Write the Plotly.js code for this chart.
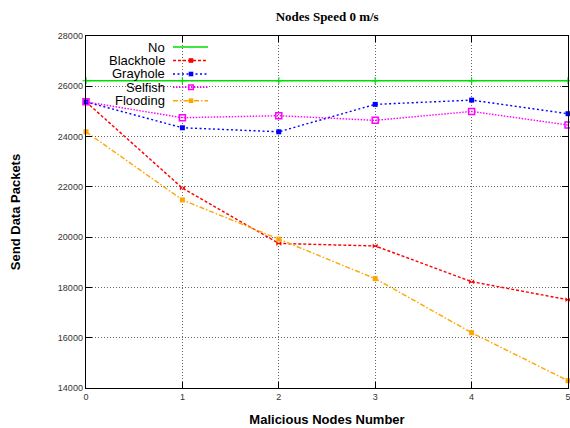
<!DOCTYPE html>
<html><head><meta charset="utf-8">
<script src="https://cdn.plot.ly/plotly-3.0.1.min.js"></script>
<style>html,body{margin:0;padding:0;background:#fff;}#chart{width:570px;height:428px;}</style>
</head><body><div id="chart"></div>
<script>
const xVals = [0, 1, 2, 3, 4, 5];
const seriesNames = ["No", "Blackhole", "Grayhole", "Selfish", "Flooding"];
const noVals = [26220, 26220, 26220, 26220, 26220, 26220];
const blackholeVals = [25380, 21950, 19750, 19650, 18230, 17510];
const grayholeVals = [25380, 24350, 24190, 25280, 25450, 24910];
const selfishVals = [25380, 24750, 24830, 24645, 25000, 24460];
const floodingVals = [24190, 21480, 19920, 18350, 16200, 14290];
const yTicks = [14000, 16000, 18000, 20000, 22000, 24000, 26000, 28000];

const styles = [
  {color: "#00dd00", dash: "solid", symbol: "cross-thin", size: 5, mline: 1.2},
  {color: "#ff0000", dash: "3px,2px", symbol: "bowtie", size: 5, mline: 0},
  {color: "#0000ff", dash: "2px,2.5px", symbol: "square", size: 5, mline: 0},
  {color: "#ff00ff", dash: "1.5px,1.5px", symbol: "square-open", size: 6, mline: 1.5},
  {color: "#ffa500", dash: "5px,2px,1.5px,2px", symbol: "square", size: 5, mline: 0}
];
const allVals = [noVals, blackholeVals, grayholeVals, selfishVals, floodingVals];

const traces = allVals.map((vals, i) => ({
  x: xVals, y: vals, name: seriesNames[i], type: "scatter", mode: "lines+markers",
  line: {color: styles[i].color, width: 1.4, dash: styles[i].dash},
  marker: {color: styles[i].color, symbol: styles[i].symbol, size: styles[i].size,
           line: {color: styles[i].color, width: styles[i].mline}},
  showlegend: false, cliponaxis: false
}));

// custom legend (text on left, sample on right, like gnuplot key)
const L = 86, R = 568, T = 36, B = 388;
const px = v => (v - L) / (R - L);
const py = v => (B - v) / (B - T);
const rowsY = [47, 60.5, 74, 87.3, 100.7];
const annotations = [];
const shapes = [];
seriesNames.forEach((n, i) => {
  annotations.push({xref: "paper", yref: "paper", x: px(166), y: py(rowsY[i]), text: n,
    showarrow: false, xanchor: "right", yanchor: "middle", borderpad: 0,
    font: {family: "Liberation Sans, Arial, sans-serif", size: 13, color: "#000"}});
  shapes.push({type: "line", xref: "paper", yref: "paper", x0: px(173), x1: px(208),
    y0: py(rowsY[i]), y1: py(rowsY[i]), line: {color: styles[i].color, width: 1.4, dash: styles[i].dash}});
  if (i > 0) {
    const s = 2.3;
    shapes.push({type: "rect", xref: "paper", yref: "paper", x0: px(191 - s), x1: px(191 + s),
      y0: py(rowsY[i] + s), y1: py(rowsY[i] - s),
      fillcolor: i === 3 ? "rgba(0,0,0,0)" : styles[i].color,
      line: {color: styles[i].color, width: i === 3 ? 1.5 : 0}});
  }
});

const gridStyle = {showgrid: true, gridcolor: "#666", griddash: "1px,2px", gridwidth: 1, zeroline: false};
const layout = {
  width: 570, height: 428,
  margin: {l: 86, r: 2, t: 36, b: 40},
  paper_bgcolor: "#fff", plot_bgcolor: "#fff",
  title: {text: "<b>Nodes Speed 0 m/s</b>", x: 0.574, xanchor: "center", y: 0.962, yanchor: "middle",
          font: {family: "Liberation Serif, Times New Roman, serif", size: 13, color: "#000"}},
  xaxis: Object.assign({range: [0, 5], tickvals: xVals, ticktext: xVals.map(String),
          showline: true, linecolor: "#000", linewidth: 1.3, mirror: "allticks",
          ticks: "inside", ticklen: 6, tickcolor: "#000", tickwidth: 1, ticklabeloverflow: "allow",
          tickfont: {family: "Liberation Sans, Arial, sans-serif", size: 9, color: "#333"},
          title: {text: "<b>Malicious Nodes Number</b>", standoff: 13,
                  font: {family: "Liberation Sans, Arial, sans-serif", size: 13, color: "#000"}}}, gridStyle),
  yaxis: Object.assign({range: [14000, 28000], tickvals: yTicks, ticktext: yTicks.map(String),
          showline: true, linecolor: "#000", linewidth: 1.3, mirror: "allticks",
          ticks: "inside", ticklen: 6, tickcolor: "#000", tickwidth: 1,
          tickfont: {family: "Liberation Sans, Arial, sans-serif", size: 9, color: "#333"},
          title: {text: "<b>Send Data Packets</b>", standoff: 34,
                  font: {family: "Liberation Sans, Arial, sans-serif", size: 13, color: "#000"}}}, gridStyle),
  annotations: annotations,
  shapes: shapes,
  showlegend: false
};
Plotly.newPlot("chart", traces, layout, {displayModeBar: false, staticPlot: true});
</script></body></html>
